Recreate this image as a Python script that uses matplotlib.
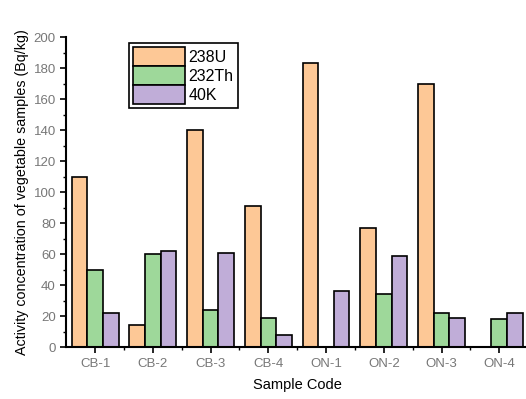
import matplotlib.pyplot as plt
import numpy as np
from matplotlib.ticker import MultipleLocator, FixedLocator

plt.rc("font", family=['Liberation Sans', 'DejaVu Sans'])

samples = ['CB-1', 'CB-2', 'CB-3', 'CB-4', 'ON-1', 'ON-2', 'ON-3', 'ON-4']
u238 = [110, 14, 140, 91, 183, 77, 170, 0]
th232 = [50, 60, 24, 19, 0, 34, 22, 18]
k40 = [22, 62, 61, 8, 36, 59, 19, 22]

fig = plt.figure(figsize=(5.26, 3.99), dpi=100)
ax = fig.add_axes([0.126, 0.130, 0.878, 0.777])

x = np.arange(len(samples))
w = 0.27
ax.bar(x - w, u238, w, color='#fdc896', edgecolor='black', linewidth=1.2, label='238U')
ax.bar(x, th232, w, color='#9ed89a', edgecolor='black', linewidth=1.2, label='232Th')
ax.bar(x + w, k40, w, color='#c0add8', edgecolor='black', linewidth=1.2, label='40K')

ax.set_xlim(-0.5, 7.5)
ax.set_ylim(0, 200)
ax.yaxis.set_major_locator(MultipleLocator(20))
ax.yaxis.set_minor_locator(MultipleLocator(10))
ax.set_xticks(x)
ax.set_xticklabels(samples)
ax.xaxis.set_minor_locator(FixedLocator(np.arange(0.5, 7.5, 1)))

for s in ['top', 'right']:
    ax.spines[s].set_visible(False)
for s in ['left', 'bottom']:
    ax.spines[s].set_linewidth(1.5)

ax.tick_params(which='major', direction='out', length=4, width=1.2, labelsize=9.5, labelcolor='#777777')
ax.tick_params(which='minor', direction='out', length=2.5, width=1.0)

ax.set_xlabel('Sample Code', fontsize=10.5, labelpad=6)
ax.set_ylabel('Activity concentration of vegetable samples (Bq/kg)', fontsize=10.3, labelpad=3)

leg = ax.legend(loc='upper left', bbox_to_anchor=(0.135, 0.98), fontsize=11.5,
                fancybox=False, edgecolor='black', framealpha=1,
                handlelength=3.3, handleheight=1.45, handletextpad=0.2,
                labelspacing=0.0, borderpad=0.25, borderaxespad=0)
leg.get_frame().set_linewidth(1.2)

fig.savefig('out.png', dpi=100)
